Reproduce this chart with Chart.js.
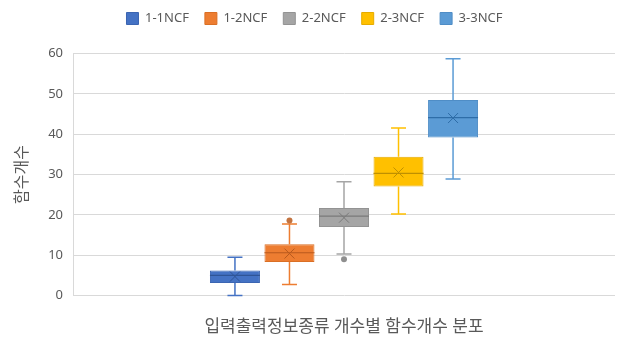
<!DOCTYPE html>
<html>
<head>
<meta charset="utf-8">
<script src="https://cdn.jsdelivr.net/npm/chart.js@4.4.1/dist/chart.umd.min.js"></script>
<style>
html,body{margin:0;padding:0;background:#fff;}
#wrap{width:622px;height:341px;position:relative;}
</style>
</head>
<body>
<div id="wrap"><canvas id="c" width="622" height="341"></canvas></div>
<script>
// ---- data ----
const categories = ['입력출력정보종류 개수별 함수개수 분포'];
const seriesNames = ['1-1NCF', '1-2NCF', '2-2NCF', '2-3NCF', '3-3NCF'];
const q1Values = [3.1, 8.3, 17.0, 27.0, 39.2];
const q3Values = [6.2, 12.7, 21.7, 34.4, 48.5];
const medianValues = [5.0, 10.6, 19.7, 30.3, 44.1];
const meanValues = [4.7, 10.4, 19.3, 30.5, 44.0];
const whiskerMinValues = [0, 2.7, 10.3, 20.2, 28.9];
const whiskerMaxValues = [9.5, 17.7, 28.2, 41.5, 58.7];
const outlierValues = [[], [18.6], [9.0], [], []];
const yTicks = [0, 10, 20, 30, 40, 50, 60];

// ---- styles ----
const fillColors = ['#4472C4', '#ED7D31', '#A5A5A5', '#FFC000', '#5B9BD5'];
const borderColors = ['#3B65B2', '#DA6F25', '#939393', '#E6AC00', '#4F8DC6'];
const darkColors = ['#2F5597', '#B85A1E', '#7A7A7A', '#BF9000', '#2E6DA8'];
const FONT = "'Noto Sans', 'Noto Sans CJK KR', sans-serif";

const datasets = seriesNames.map((name, i) => ({
  label: name,
  data: [[q1Values[i], q3Values[i]]],
  backgroundColor: fillColors[i],
  borderColor: borderColors[i],
  borderWidth: 1,
  borderSkipped: false,
  barPercentage: 0.917,
  categoryPercentage: 0.503
}));

const legendPlacement = {
  id: 'legendPlacement',
  beforeInit(chart) {
    const lg = chart.legend;
    if (!lg) return;
    const fit = lg.fit;
    lg.fit = function () { fit.call(this); this.height = 53.5; };
  },
  afterLayout(chart) {
    const lg = chart.legend;
    if (!lg) return;
    lg.top = -4;
    lg.left += 7;
    lg.right += 7;
  }
};

const boxPlugin = {
  id: 'boxparts',
  beforeDatasetsDraw(chart) {
    const ctx = chart.ctx;
    const y = chart.scales.y;
    ctx.save();
    seriesNames.forEach((n, i) => {
      const el = chart.getDatasetMeta(i).data[0];
      if (!el) return;
      const x = el.x;
      const cap = 7.5;
      ctx.strokeStyle = fillColors[i];
      ctx.lineWidth = 1.5;
      const yMin = y.getPixelForValue(whiskerMinValues[i]);
      const yMax = y.getPixelForValue(whiskerMaxValues[i]);
      const yQ1 = y.getPixelForValue(q1Values[i]);
      const yQ3 = y.getPixelForValue(q3Values[i]);
      ctx.beginPath();
      ctx.moveTo(x, yMax); ctx.lineTo(x, yQ3);
      ctx.moveTo(x, yQ1); ctx.lineTo(x, yMin);
      ctx.moveTo(x - cap, yMax); ctx.lineTo(x + cap, yMax);
      ctx.moveTo(x - cap, yMin); ctx.lineTo(x + cap, yMin);
      ctx.stroke();
    });
    ctx.restore();
  },
  afterDatasetsDraw(chart) {
    const ctx = chart.ctx;
    const y = chart.scales.y;
    ctx.save();
    seriesNames.forEach((n, i) => {
      const el = chart.getDatasetMeta(i).data[0];
      if (!el) return;
      const x = el.x;
      const half = el.width / 2;
      ctx.strokeStyle = darkColors[i];
      ctx.lineWidth = 1.2;
      const yMed = y.getPixelForValue(medianValues[i]);
      ctx.beginPath();
      ctx.moveTo(x - half, yMed); ctx.lineTo(x + half, yMed);
      ctx.stroke();
      const yMean = y.getPixelForValue(meanValues[i]);
      const s = 5;
      ctx.lineWidth = 1;
      ctx.beginPath();
      ctx.moveTo(x - s, yMean - s); ctx.lineTo(x + s, yMean + s);
      ctx.moveTo(x + s, yMean - s); ctx.lineTo(x - s, yMean + s);
      ctx.stroke();
      outlierValues[i].forEach(v => {
        const yo = y.getPixelForValue(v);
        ctx.beginPath();
        ctx.arc(x, yo, 3, 0, Math.PI * 2);
        ctx.fillStyle = darkColors[i];
        ctx.globalAlpha = 0.85;
        ctx.fill();
        ctx.globalAlpha = 1;
      });
    });
    ctx.restore();
  }
};

new Chart(document.getElementById('c'), {
  type: 'bar',
  data: { labels: categories, datasets },
  plugins: [legendPlacement, boxPlugin],
  options: {
    responsive: false,
    animation: false,
    layout: { padding: { top: 0, right: 7, bottom: 0, left: 0 } },
    plugins: {
      legend: {
        position: 'top',
        labels: {
          boxWidth: 12, boxHeight: 12, padding: 16,
          color: '#595959',
          font: { family: FONT, size: 13 }
        }
      },
      tooltip: { enabled: false }
    },
    scales: {
      x: {
        grid: { display: false, drawTicks: false },
        border: { display: false },
        ticks: { display: false },
        title: {
          display: true,
          text: categories[0],
          color: '#595959',
          font: { family: FONT, size: 17 },
          padding: { top: 0, bottom: 4 }
        },
        afterFit(scale) { scale.height = 45.5; }
      },
      y: {
        min: 0, max: 60,
        afterBuildTicks(scale) { scale.ticks = yTicks.map(v => ({ value: v })); },
        grid: { color: '#D9D9D9', drawTicks: false, lineWidth: 1 },
        border: { display: true, color: '#D9D9D9' },
        ticks: { color: '#595959', padding: 10, font: { family: FONT, size: 13 } },
        title: {
          display: true,
          text: '함수개수',
          color: '#595959',
          font: { family: FONT, size: 16 },
          padding: { top: 13, bottom: 10 }
        },
        afterFit(scale) { scale.width = 73; }
      }
    }
  }
});
</script>
</body>
</html>
